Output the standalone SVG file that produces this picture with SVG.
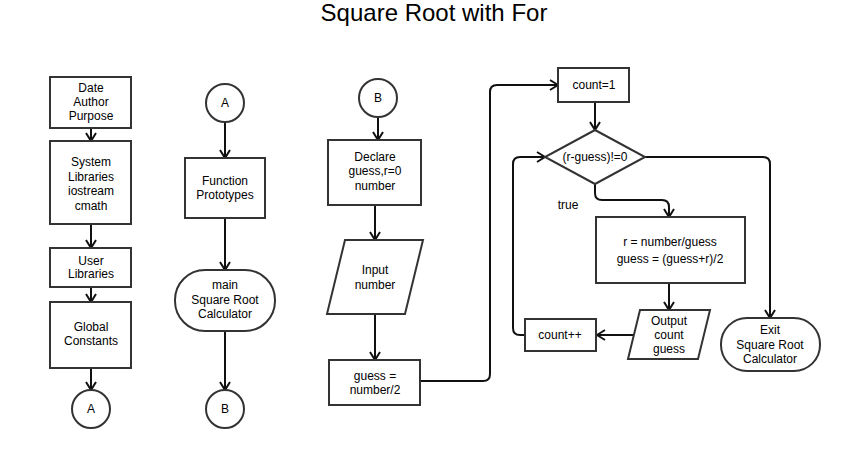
<svg xmlns="http://www.w3.org/2000/svg" width="846" height="450" viewBox="0 0 846 450">
<style>
.n{fill:#fff;stroke:#333;stroke-width:2}
.t{font-family:"Liberation Sans",Arial,sans-serif;font-size:12px;fill:#000;text-anchor:middle}
.c{fill:none;stroke:#111;stroke-width:2;marker-end:url(#ah)}
.title{font-family:"Liberation Sans",Arial,sans-serif;font-size:24px;fill:#000;text-anchor:middle}
</style>
<defs>
<marker id="ah" markerUnits="userSpaceOnUse" viewBox="0 0 10 12" refX="9" refY="6" markerWidth="10" markerHeight="12" orient="auto">
<path d="M1,1 L9,6 L1,11" fill="none" stroke="#111" stroke-width="2"/>
</marker>
</defs>
<rect width="846" height="450" fill="#fff"/>
<text class="title" x="434" y="21">Square Root with For</text>

<g id="connectors">
<path class="c" d="M91,128 V141"/>
<path class="c" d="M91,224 V248"/>
<path class="c" d="M91,287 V302"/>
<path class="c" d="M91,368 V390"/>
<path class="c" d="M225,122 V158"/>
<path class="c" d="M225,218 V270"/>
<path class="c" d="M225,331 V390"/>
<path class="c" d="M378,117 V140"/>
<path class="c" d="M375,205 V240"/>
<path class="c" d="M375,314 V360"/>
<path class="c" d="M420,381 H483 Q490,381 490,374 V92 Q490,85 497,85 H558"/>
<path class="c" d="M595,102 V130"/>
<path class="c" d="M595,184 V193 Q595,200 602,200 H662 Q669,200 669,207 V217"/>
<path class="c" d="M669,283 V310"/>
<path class="c" d="M633,335 H597"/>
<path class="c" d="M525,335 H520 Q513,335 513,328 V164 Q513,157 520,157 H545"/>
<path class="c" d="M645,157 H763 Q770,157 770,164 V318"/>
</g>

<g id="date">
<rect class="n" x="50" y="77" width="81" height="51"/>
<text class="t" x="91" y="92">Date</text>
<text class="t" x="91" y="106">Author</text>
<text class="t" x="91" y="120">Purpose</text>
</g>
<g id="syslib">
<rect class="n" x="50" y="141" width="81" height="83"/>
<text class="t" x="91" y="166">System</text>
<text class="t" x="91" y="181">Libraries</text>
<text class="t" x="91" y="195">iostream</text>
<text class="t" x="91" y="210">cmath</text>
</g>
<g id="userlib">
<rect class="n" x="50" y="248" width="81" height="39"/>
<text class="t" x="91" y="265">User</text>
<text class="t" x="91" y="278">Libraries</text>
</g>
<g id="global">
<rect class="n" x="50" y="302" width="81" height="66"/>
<text class="t" x="91" y="331">Global</text>
<text class="t" x="91" y="345">Constants</text>
</g>
<g id="connA1">
<circle class="n" cx="91" cy="409" r="19"/>
<text class="t" x="91" y="413">A</text>
</g>

<g id="connA2">
<circle class="n" cx="225" cy="103" r="19"/>
<text class="t" x="225" y="107">A</text>
</g>
<g id="proto">
<rect class="n" x="185" y="158" width="80" height="60"/>
<text class="t" x="225" y="185">Function</text>
<text class="t" x="225" y="199">Prototypes</text>
</g>
<g id="main">
<rect class="n" x="175" y="270" width="100" height="61" rx="30" ry="30"/>
<text class="t" x="225" y="289">main</text>
<text class="t" x="225" y="304">Square Root</text>
<text class="t" x="225" y="318">Calculator</text>
</g>
<g id="connB1">
<circle class="n" cx="225" cy="409" r="19"/>
<text class="t" x="225" y="413">B</text>
</g>

<g id="connB2">
<circle class="n" cx="378" cy="98" r="19"/>
<text class="t" x="378" y="102">B</text>
</g>
<g id="declare">
<rect class="n" x="328" y="140" width="93" height="65"/>
<text class="t" x="375" y="161">Declare</text>
<text class="t" x="375" y="175">guess,r=0</text>
<text class="t" x="375" y="190">number</text>
</g>
<g id="input">
<polygon class="n" points="345,240 423,240 405,314 327,314"/>
<text class="t" x="375" y="274">Input</text>
<text class="t" x="375" y="289">number</text>
</g>
<g id="guess">
<rect class="n" x="329" y="360" width="91" height="45"/>
<text class="t" x="375" y="380">guess =</text>
<text class="t" x="375" y="394">number/2</text>
</g>

<g id="count1">
<rect class="n" x="558" y="68" width="71" height="34"/>
<text class="t" x="594" y="89">count=1</text>
</g>
<g id="decision">
<polygon class="n" points="595,130 645,157 595,184 545,157"/>
<text class="t" x="595" y="161">(r-guess)!=0</text>
</g>
<text class="t" x="568" y="209">true</text>
<g id="calc">
<rect class="n" x="596" y="217" width="149" height="66"/>
<text class="t" x="670" y="246">r = number/guess</text>
<text class="t" x="670" y="263">guess = (guess+r)/2</text>
</g>
<g id="output">
<polygon class="n" points="640,310 710,310 698,359 628,359"/>
<text class="t" x="669" y="325">Output</text>
<text class="t" x="669" y="339">count</text>
<text class="t" x="669" y="353">guess</text>
</g>
<g id="countpp">
<rect class="n" x="525" y="319" width="71" height="32"/>
<text class="t" x="560" y="339">count++</text>
</g>
<g id="exit">
<rect class="n" x="721" y="318" width="99" height="53" rx="26" ry="26"/>
<text class="t" x="770" y="334">Exit</text>
<text class="t" x="770" y="349">Square Root</text>
<text class="t" x="770" y="363">Calculator</text>
</g>
</svg>
